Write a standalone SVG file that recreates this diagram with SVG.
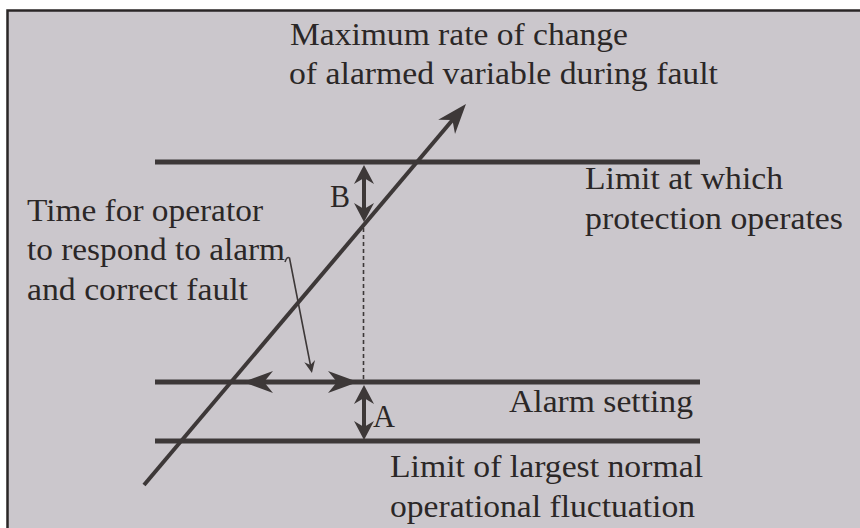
<svg xmlns="http://www.w3.org/2000/svg" width="860" height="528" viewBox="0 0 860 528">
  <defs>
    <style>
      .lbl { font-size: 31px; fill: #2b2727; }
      .lim { stroke: #3d3838; stroke-width: 5; fill: none; }
      .arr { stroke: #3d3838; stroke-width: 4; fill: none; }
      .thin { stroke: #3d3838; stroke-width: 1.6; fill: none; }
    </style>
    <marker id="big" markerUnits="userSpaceOnUse" viewBox="-16 -12 32 24" markerWidth="32" markerHeight="24" refX="0" refY="0" orient="auto-start-reverse">
      <path d="M15,0 L-15,-11 L-6,0 L-15,11 Z" fill="#3d3838"/>
    </marker>
    <marker id="small" markerUnits="userSpaceOnUse" viewBox="-11 -11 22 22" markerWidth="22" markerHeight="22" refX="0" refY="0" orient="auto-start-reverse">
      <path d="M10,0 L-9,-10 L-3,0 L-9,10 Z" fill="#3d3838"/>
    </marker>
    <marker id="tiny" markerUnits="userSpaceOnUse" viewBox="-8 -7 16 14" markerWidth="16" markerHeight="14" refX="0" refY="0" orient="auto">
      <path d="M5,0 L-7,-5.5 L-3,0 L-7,5.5 Z" fill="#3d3838"/>
    </marker>
  </defs>
  <rect x="0" y="0" width="860" height="528" fill="#ffffff"/>
  <rect x="7.5" y="10.5" width="860" height="525" fill="#cbc7cc" stroke="#2a2626" stroke-width="2.5"/>

  <g id="limit-lines">
    <line id="protection-limit" class="lim" x1="155" y1="162" x2="700" y2="162"/>
    <line id="alarm-line" class="lim" x1="155" y1="382" x2="700" y2="382"/>
    <line id="normal-limit" class="lim" x1="155" y1="441" x2="700" y2="441"/>
  </g>

  <g id="connectors">
    <line id="rate-arrow" class="arr" x1="144" y1="485" x2="456.3" y2="115.5" marker-end="url(#big)"/>
    <line id="time-arrow" class="arr" x1="258" y1="382" x2="343" y2="382" marker-start="url(#big)" marker-end="url(#big)"/>
    <line id="B-arrow" class="arr" x1="364" y1="175" x2="364" y2="212" marker-start="url(#small)" marker-end="url(#small)"/>
    <line id="A-arrow" class="arr" x1="364" y1="395" x2="364" y2="430" marker-start="url(#small)" marker-end="url(#small)"/>
    <line id="drop-line" class="thin" x1="363.5" y1="228" x2="363.5" y2="380" stroke-dasharray="4 3"/>
    <path id="pointer" class="thin" d="M285,262 Q287,256 289.5,258 L311,368" marker-end="url(#tiny)"/>
  </g>

  <g id="labels" font-family="Liberation Serif, serif">
    <g id="label-rate">
      <text class="lbl" x="290" y="45" textLength="338" lengthAdjust="spacingAndGlyphs">Maximum rate of change</text>
      <text class="lbl" x="289" y="84" textLength="429" lengthAdjust="spacingAndGlyphs">of alarmed variable during fault</text>
    </g>
    <g id="label-protection">
      <text class="lbl" x="585" y="189" textLength="198" lengthAdjust="spacingAndGlyphs">Limit at which</text>
      <text class="lbl" x="585" y="229" textLength="258" lengthAdjust="spacingAndGlyphs">protection operates</text>
    </g>
    <g id="label-time">
      <text class="lbl" x="27" y="221" textLength="236" lengthAdjust="spacingAndGlyphs">Time for operator</text>
      <text class="lbl" x="27" y="260" textLength="258" lengthAdjust="spacingAndGlyphs">to respond to alarm</text>
      <text class="lbl" x="27" y="300" textLength="221" lengthAdjust="spacingAndGlyphs">and correct fault</text>
    </g>
    <g id="label-B">
      <text class="lbl" x="330" y="207" textLength="20" lengthAdjust="spacingAndGlyphs">B</text>
    </g>
    <g id="label-alarm">
      <text class="lbl" x="509" y="412" textLength="184" lengthAdjust="spacingAndGlyphs">Alarm setting</text>
    </g>
    <g id="label-A">
      <text class="lbl" x="373" y="427" textLength="22" lengthAdjust="spacingAndGlyphs">A</text>
    </g>
    <g id="label-normal">
      <text class="lbl" x="390" y="477" textLength="313" lengthAdjust="spacingAndGlyphs">Limit of largest normal</text>
      <text class="lbl" x="390" y="517" textLength="305" lengthAdjust="spacingAndGlyphs">operational fluctuation</text>
    </g>
  </g>
</svg>
